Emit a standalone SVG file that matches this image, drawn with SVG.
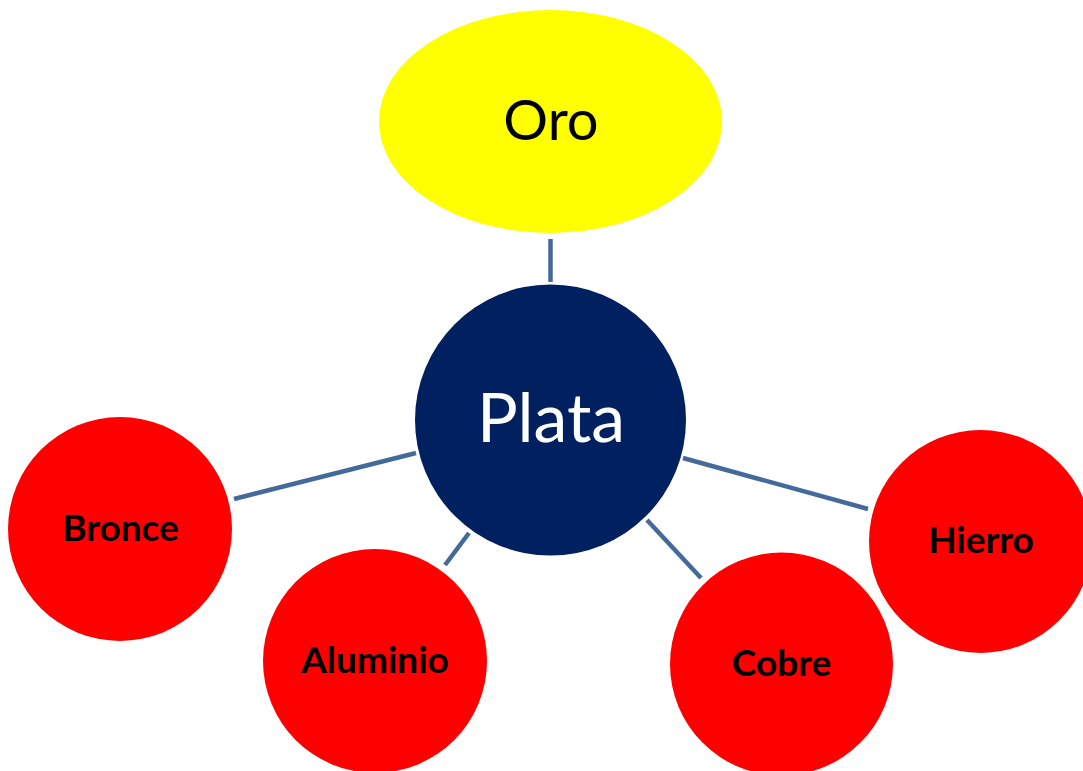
<svg xmlns="http://www.w3.org/2000/svg" width="1083" height="771" viewBox="0 0 1083 771">
<style>
.red{fill:#ff0000}
.lbl{font-family:Lato,"Liberation Sans",sans-serif;font-weight:bold;font-size:37px;fill:#000;text-anchor:middle}
.big{font-family:Lato,"Liberation Sans",sans-serif;text-anchor:middle}
.conn line{stroke:#44699b;stroke-width:4.5;fill:none}
</style>
<rect width="1083" height="771" fill="#ffffff"/>
<g id="connectors" class="conn">
<line x1="550.5" y1="239" x2="550.5" y2="282"/>
<line x1="234" y1="499" x2="416" y2="453"/>
<line x1="445" y1="565" x2="469" y2="533"/>
<line x1="647" y1="520" x2="701" y2="578"/>
<line x1="683" y1="458" x2="868" y2="509"/>
</g>
<g id="oro">
<ellipse cx="550.5" cy="121.5" rx="171.5" ry="111.5" fill="#ffff00"/>
<text class="big" x="551" y="140" font-size="56" fill="#000">Oro</text>
</g>
<g id="plata">
<circle cx="550.5" cy="420" r="135.5" fill="#002060"/>
<text class="big" x="551" y="442" font-size="68" fill="#ffffff">Plata</text>
</g>
<g id="bronce">
<circle class="red" cx="120" cy="529" r="112"/>
<text class="lbl" x="120.5" y="541">Bronce</text>
</g>
<g id="aluminio">
<circle class="red" cx="375" cy="661" r="112"/>
<text class="lbl" x="375" y="673">Aluminio</text>
</g>
<g id="cobre">
<circle class="red" cx="781.5" cy="664" r="111.5"/>
<text class="lbl" x="781.5" y="676">Cobre</text>
</g>
<g id="hierro">
<circle class="red" cx="980.5" cy="541.5" r="111.5"/>
<text class="lbl" x="981" y="553">Hierro</text>
</g>
</svg>
